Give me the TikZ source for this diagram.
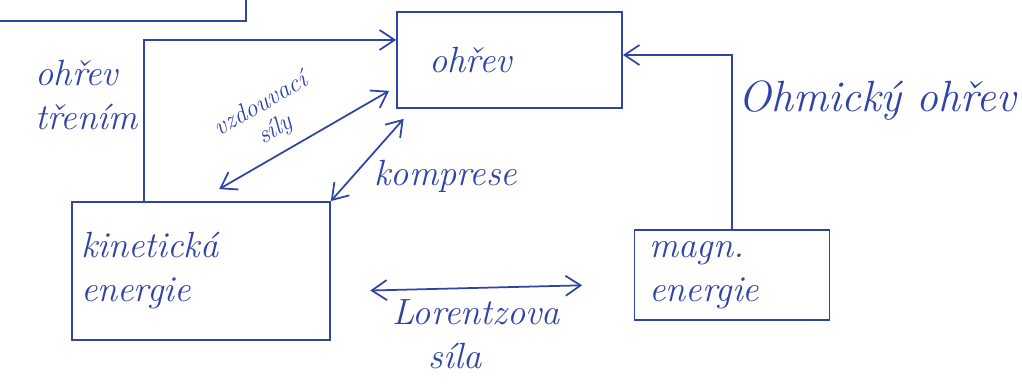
\documentclass[tikz,border=0pt]{standalone}
\usepackage{tikz}
\usetikzlibrary{arrows.meta, positioning, calc}
\definecolor{inkblue}{RGB}{48,68,168}

\begin{document}
\begin{tikzpicture}[
  > = {Straight Barb[length=3mm, width=4mm]},
  every node/.style = {text=inkblue, font=\huge\itshape},
  box/.style = {draw=inkblue, line width=1pt, align=left},
  ink arrow/.style = {->, draw=inkblue, line width=1pt},
  both arrow/.style = {<->, draw=inkblue, line width=1pt}
]
  \useasboundingbox (0,0) rectangle (20.44,7.82);

  % boxes
  \node[box, anchor=south east, minimum width=6cm, minimum height=2cm] (topbox) at (4.94,7.38) {};
  \node[box, minimum width=4.5cm, minimum height=1.92cm, text width=3.2cm] (ohrev) at (10.19,6.62) {ohřev};
  \node[box, minimum width=5.16cm, minimum height=2.76cm, text width=4.8cm] (kin) at (4.02,2.4) {kinetická\\energie};
  \node[box, minimum width=3.9cm, minimum height=1.8cm, text width=3.3cm] (magn) at (14.64,2.32) {magn.\\energie};

  % connectors
  \draw[ink arrow] ($(kin.north west)+(1.46,0)$) |- ($(ohrev.west)+(0,0.4)$)
    node[pos=0.33, left, align=left] {ohřev\\třením};
  \draw[both arrow] ($(kin.north west)+(2.96,0.24)$) -- ($(ohrev.south west)+(-0.14,0.36)$)
    node[pos=0.4, above=1mm, sloped, align=center, font=\Large\itshape] {vzdouvací\\[-2pt]síly};
  \draw[both arrow] (kin.north east) -- ($(ohrev.south west)+(0.15,-0.2)$)
    node[pos=0.3, right=3mm] {komprese};
  \draw[ink arrow] (magn.north) |- ($(ohrev.east)+(0,0.1)$)
    node[pos=0.37, right, font=\Huge\itshape] {Ohmický ohřev};
  \draw[both arrow] ($(kin.east)!0.13!(magn.west)+(0,-0.38)$) -- ($(kin.east)!0.83!(magn.west)+(0,-0.22)$)
    node[midway, below=1mm, align=left] {Lorentzova\\\quad síla};
\end{tikzpicture}
\end{document}
